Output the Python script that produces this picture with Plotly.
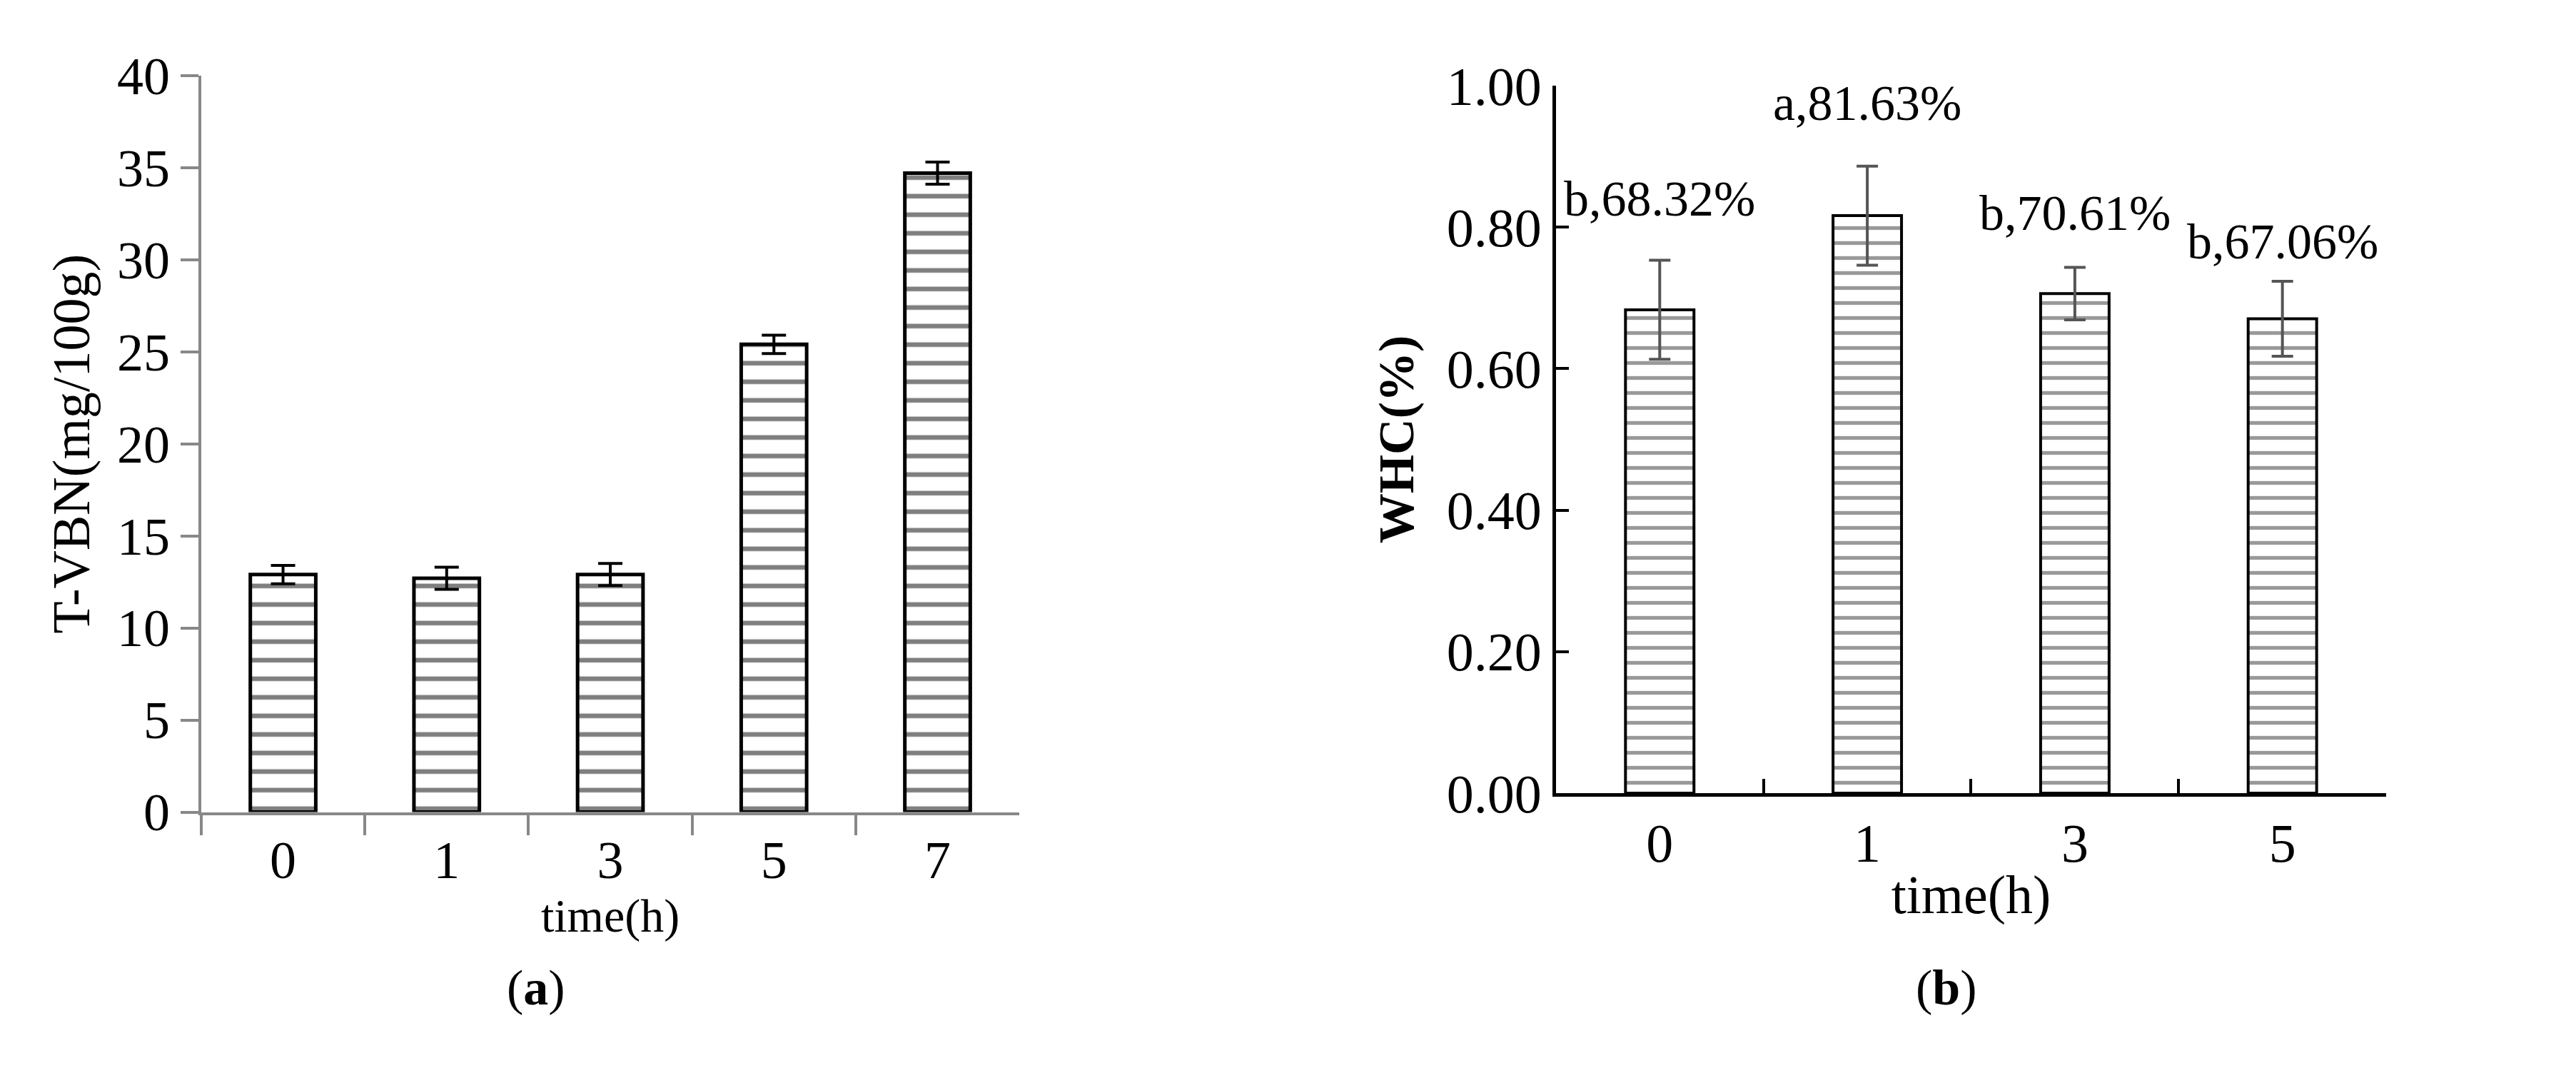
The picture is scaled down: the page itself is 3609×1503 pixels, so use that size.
import plotly.graph_objects as go

cats_a = ["0", "1", "3", "5", "7"]
tvbn = [12.9, 12.7, 12.9, 25.4, 34.7]
tvbn_err = [0.5, 0.6, 0.6, 0.5, 0.6]

cats_b = ["0", "1", "3", "5"]
whc = [0.6832, 0.8163, 0.7061, 0.6706]
whc_err = [0.07, 0.07, 0.037, 0.053]
whc_labels = ["b,68.32%", "a,81.63%", "b,70.61%", "b,67.06%"]
label_y = [0.84, 0.975, 0.82, 0.78]

FONT = "Liberation Serif"
fig = go.Figure()
fig.add_trace(go.Bar(
    x=cats_a, y=tvbn, width=0.4, xaxis="x", yaxis="y",
    marker=dict(color="white", line=dict(color="black", width=5),
                pattern=dict(shape="-", fgcolor="black", bgcolor="white", size=26, solidity=0.25)),
    error_y=dict(type="data", array=tvbn_err, color="black", thickness=4, width=17),
    showlegend=False))
fig.add_trace(go.Bar(
    x=cats_b, y=whc, width=0.33, xaxis="x2", yaxis="y2",
    marker=dict(color="white", line=dict(color="black", width=4),
                pattern=dict(shape="-", fgcolor="#333333", bgcolor="white", size=21, solidity=0.25)),
    error_y=dict(type="data", array=whc_err, color="#555555", thickness=4, width=15),
    showlegend=False))

for i, (t, yv) in enumerate(zip(whc_labels, label_y)):
    fig.add_annotation(x=i, y=yv, xref="x2", yref="y2", text=t, showarrow=False,
                       font=dict(family=FONT, size=70, color="black"))

fig.add_annotation(x=0.194, y=0.031, xref="paper", yref="paper", text="(<b>a</b>)",
                   showarrow=False, font=dict(family=FONT, size=70, color="black"))
fig.add_annotation(x=0.766, y=0.031, xref="paper", yref="paper", text="(<b>b</b>)",
                   showarrow=False, font=dict(family=FONT, size=70, color="black"))

tf = dict(family=FONT, size=74, color="black")
tf2 = dict(family=FONT, size=76, color="black")
fig.update_layout(
    width=3609, height=1503, margin=dict(l=0, r=0, t=0, b=0),
    plot_bgcolor="white", paper_bgcolor="white",
    font=dict(family=FONT, color="black"),
    xaxis=dict(domain=[0.0759, 0.3935], anchor="y", type="category", categoryarray=cats_a,
               range=[-0.5, 4.5], showline=True, linecolor="#888888", linewidth=4,
               ticks="outside", tickson="boundaries", ticklen=28, tickwidth=4, tickcolor="#888888",
               tickfont=tf, title=dict(text="time(h)", font=dict(family=FONT, size=66), standoff=5)),
    yaxis=dict(domain=[0.2329, 0.960], anchor="x", range=[0, 40], dtick=5, showline=True,
               linecolor="#888888", linewidth=4, ticks="outside", ticklen=25, tickwidth=4,
               tickcolor="#888888", showgrid=False, zeroline=False, tickfont=tf,
               title=dict(text="T-VBN(mg/100g)", font=dict(family=FONT, size=74), standoff=15)),
    xaxis2=dict(domain=[0.6018, 0.9241], anchor="y2", type="category", categoryarray=cats_b,
                range=[-0.5, 3.5], showline=True, linecolor="black", linewidth=5,
                ticks="inside", tickson="boundaries", ticklen=20, tickwidth=4, tickcolor="black",
                tickfont=tf2,
                title=dict(text="time(h)", font=dict(family=FONT, size=76), standoff=5)),
    yaxis2=dict(domain=[0.2515, 0.950], anchor="x2", range=[0, 1.0], dtick=0.2, tickformat=".2f",
                showline=True, linecolor="black", linewidth=5, ticks="inside", ticklen=18,
                tickwidth=4, tickcolor="black", showgrid=False, zeroline=False,
                tickfont=tf2,
                title=dict(text="<b>WHC(%)</b>", font=dict(family=FONT, size=70), standoff=25)),
)
fig.write_html("out.html")
